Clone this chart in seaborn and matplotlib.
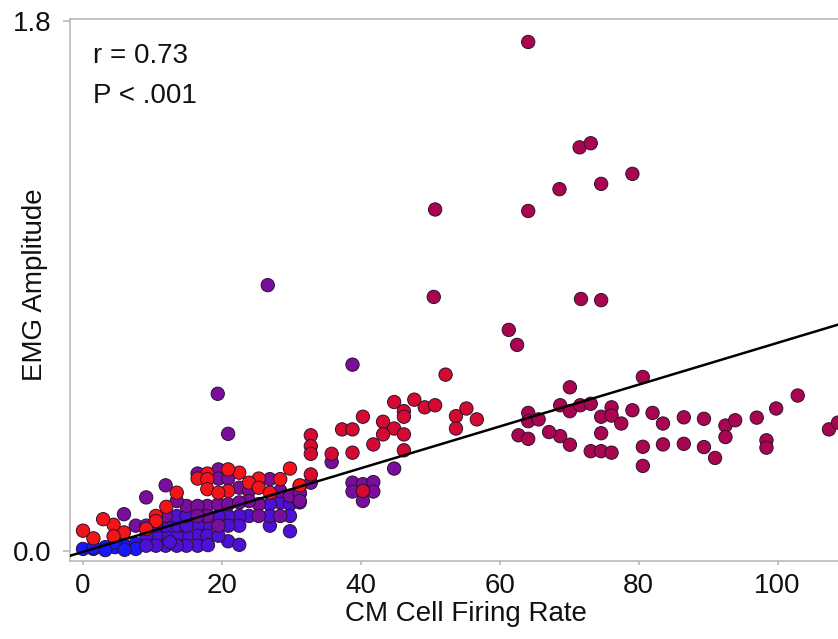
import numpy as np
import pandas as pd
import matplotlib
matplotlib.use("Agg")
import matplotlib.pyplot as plt
import seaborn as sns

# CM cell firing rate (x) vs EMG amplitude (y), grouped by dot colour
blue_x = [0.0, 1.5, 3.2, 4.6, 6.0, 7.6, 4.6, 7.6, 6.0, 3.2, 1.5]
blue_y = [0.007, 0.007, 0.013, 0.013, 0.018, 0.024, 0.029, 0.007, 0.004, 0.003, 0.012]

violet_x = [28.4, 29.8, 31.2, 29.8, 29.8, 26.9, 23.9, 22.5, 22.5, 20.9, 20.9, 20.9,
            22.5, 19.5, 17.9, 16.5, 16.5, 16.5, 14.9, 14.9, 13.5, 13.5, 11.9, 11.9,
            10.5, 10.5, 9.1, 9.1, 13.5, 11.9, 14.9, 13.5, 14.9, 10.5, 26.9, 26.9,
            17.9, 19.5, 18.0, 12.5]
violet_y = [0.165, 0.159, 0.165, 0.119, 0.067, 0.086, 0.119, 0.119, 0.086, 0.119, 0.086, 0.033,
            0.021, 0.119, 0.086, 0.086, 0.052, 0.018, 0.052, 0.018, 0.052, 0.018, 0.052, 0.018,
            0.052, 0.018, 0.052, 0.018, 0.086, 0.086, 0.086, 0.119, 0.119, 0.086, 0.159, 0.119,
            0.052, 0.052, 0.020, 0.030]

purple_x = [19.4, 20.9, 19.5, 16.5, 19.5, 20.9, 26.9, 22.5, 23.9, 28.4, 29.8, 31.2,
            28.4, 25.3, 23.9, 25.3, 17.9, 19.5, 20.9, 22.5, 19.5, 17.9, 11.9, 9.1,
            14.9, 16.5, 16.5, 13.5, 5.9, 7.6, 9.1, 11.9, 26.6, 38.8,
            35.8, 44.8, 32.8, 31.2, 38.8, 40.3, 41.8, 38.8, 41.8, 40.3, 31.2, 31.2]
purple_y = [0.534, 0.398, 0.277, 0.263, 0.246, 0.246, 0.244, 0.215, 0.204, 0.204, 0.187, 0.193,
            0.119, 0.159, 0.170, 0.119, 0.153, 0.159, 0.159, 0.165, 0.086, 0.119, 0.223, 0.182,
            0.153, 0.153, 0.119, 0.170, 0.125, 0.086, 0.086, 0.119, 0.903, 0.633,
            0.302, 0.280, 0.232, 0.221, 0.232, 0.227, 0.234, 0.202, 0.202, 0.170, 0.200, 0.170]

red_x = [29.8, 28.4, 31.2, 25.3, 23.9, 22.5, 20.9, 17.9, 16.5, 17.9, 17.9, 20.9,
         25.3, 26.9, 13.5, 10.5, 10.5, 9.1, 5.9, 4.4, 4.4, 2.9, 1.5, 0.0, 19.5, 12.0]
red_y = [0.280, 0.244, 0.223, 0.246, 0.232, 0.266, 0.277, 0.263, 0.246, 0.244, 0.210, 0.204,
         0.215, 0.198, 0.198, 0.119, 0.102, 0.075, 0.063, 0.089, 0.050, 0.108, 0.043, 0.069, 0.198, 0.150]

crimson_x = [52.2, 44.8, 47.7, 49.2, 50.7, 40.3, 46.2, 46.2, 43.2, 53.7, 55.2, 56.7,
             53.7, 37.3, 38.8, 44.8, 43.2, 46.2, 41.8, 46.2, 38.8, 32.8, 32.8, 32.8,
             35.8, 32.8, 40.3]
crimson_y = [0.599, 0.506, 0.514, 0.488, 0.495, 0.456, 0.475, 0.456, 0.439, 0.458, 0.484, 0.447,
             0.416, 0.413, 0.413, 0.416, 0.396, 0.396, 0.362, 0.342, 0.334, 0.393, 0.356, 0.330,
             0.330, 0.260, 0.204]

magenta_x = [64.1, 71.5, 73.1, 79.1, 74.6, 68.6, 64.1, 50.7, 50.5, 71.7, 74.6, 61.3,
             62.5, 80.6, 70.1, 102.9, 68.7, 70.1, 71.6, 73.1, 76.1, 79.1, 74.6, 76.1,
             77.5, 82.0, 83.5, 86.5, 89.4, 92.5, 93.9, 97.0, 99.8, 92.5, 74.6, 68.7,
             70.1, 73.1, 74.6, 76.1, 80.6, 80.6, 83.5, 86.5, 89.4, 91.0, 98.4, 98.4,
             107.4, 108.7, 64.1, 64.1, 65.6, 62.7, 64.1, 67.1]
magenta_y = [1.729, 1.371, 1.385, 1.281, 1.247, 1.229, 1.155, 1.160, 0.863, 0.856, 0.852, 0.751,
             0.700, 0.591, 0.556, 0.528, 0.495, 0.475, 0.495, 0.500, 0.488, 0.478, 0.456, 0.460,
             0.433, 0.469, 0.433, 0.454, 0.449, 0.426, 0.444, 0.453, 0.484, 0.387, 0.400, 0.390,
             0.361, 0.339, 0.339, 0.334, 0.354, 0.289, 0.362, 0.364, 0.353, 0.316, 0.376, 0.351,
             0.413, 0.436, 0.469, 0.441, 0.447, 0.393, 0.381, 0.404]

# Least-squares fit reported for the full recording (r = 0.73)
fit_slope = 0.0071
fit_intercept = -0.003

groups = {
    "blue": (blue_x, blue_y),
    "violet": (violet_x, violet_y),
    "purple": (purple_x, purple_y),
    "red": (red_x, red_y),
    "crimson": (crimson_x, crimson_y),
    "magenta": (magenta_x, magenta_y),
}
palette = {
    "blue": "#1818ff",
    "violet": "#4c10d6",
    "purple": "#7a0e9c",
    "red": "#f41418",
    "crimson": "#d40a30",
    "magenta": "#aa0650",
}

df = pd.concat(
    [pd.DataFrame({"rate": xs, "emg": ys, "group": name}) for name, (xs, ys) in groups.items()],
    ignore_index=True,
)

sns.set_style("white")
plt.rcParams["font.family"] = ["Liberation Sans", "DejaVu Sans"]

W, H = 838, 639
fig = plt.figure(figsize=(W / 100, H / 100), dpi=100)
left, right, top, bottom = 70, 838, 19.3, 560.7
ax = fig.add_axes([left / W, (H - bottom) / H, (right - left) / W, (bottom - top) / H])

ax.set_xlim(-1.87, 108.7)
ax.set_ylim(-0.033, 1.806)

sns.scatterplot(data=df, x="rate", y="emg", hue="group", palette=palette,
                s=92, edgecolor="#2c1030", linewidth=0.7, legend=False, ax=ax, zorder=2)
ax.axline((0, fit_intercept), slope=fit_slope, color="black", lw=1.8, zorder=3)

ax.set_xticks([0, 20, 40, 60, 80, 100])
ax.set_yticks([0, 1.8])
ax.set_yticklabels(["0.0", "1.8"])

spine_col = "#b4b4b4"
for side in ["left", "top", "bottom"]:
    ax.spines[side].set_color(spine_col)
    ax.spines[side].set_linewidth(1.1)
ax.spines["right"].set_visible(False)

ax.tick_params(axis="x", direction="out", length=3.2, width=1.1, color=spine_col,
               labelsize=20, pad=5.5, labelcolor="#111111", bottom=True)
ax.tick_params(axis="y", direction="out", length=5, width=1.1, color=spine_col,
               labelsize=20, pad=8, labelcolor="#111111", left=True)

ax.set_xlabel("CM Cell Firing Rate", fontsize=20, color="#111111")
ax.set_ylabel("EMG Amplitude", fontsize=20, color="#111111")
ax.xaxis.set_label_coords((466 - left) / (right - left), -0.0745)
ax.yaxis.set_label_coords(-0.046, 0.51)
ax.yaxis.label.set_va("center")

ax.text(0.0296, 0.9187, "r = 0.73", transform=ax.transAxes, fontsize=20,
        va="baseline", ha="left", color="#111111")
ax.text(0.0296, 0.8448, "P < .001", transform=ax.transAxes, fontsize=20,
        va="baseline", ha="left", color="#111111")

fig.savefig("out.png", dpi=100)
